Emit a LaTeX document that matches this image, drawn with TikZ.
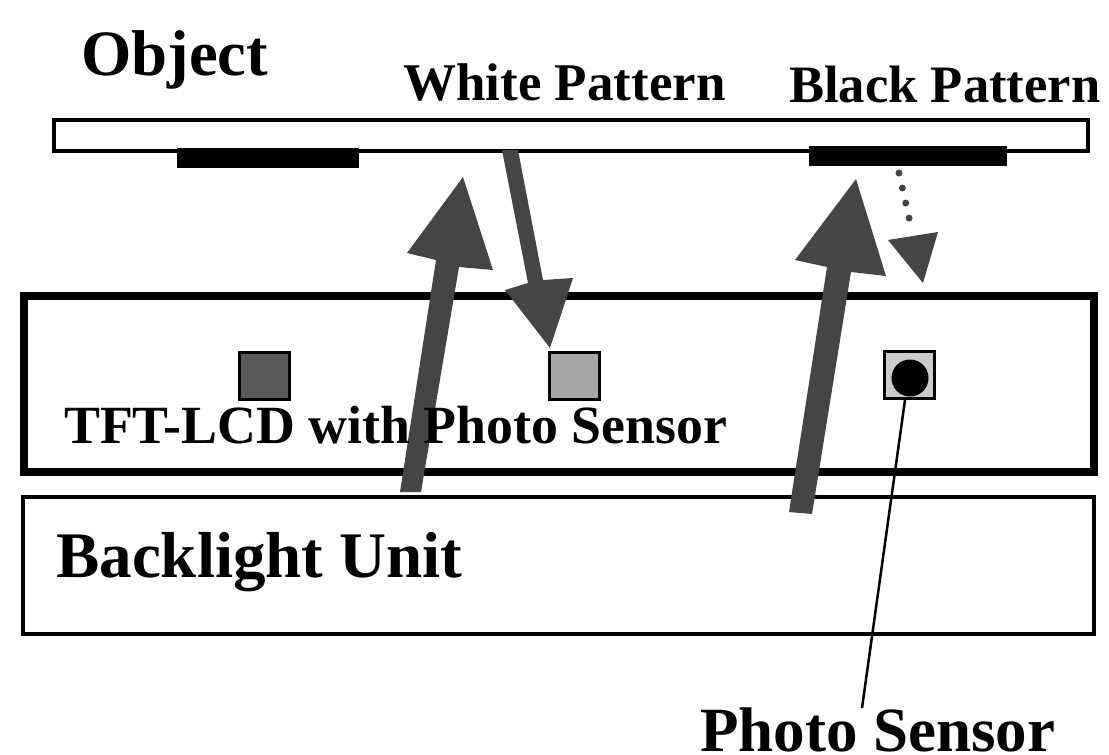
\documentclass[tikz,border=0pt]{standalone}
\usepackage{fontspec}
\setmainfont{Liberation Serif}
\definecolor{arrowgrey}{gray}{0.27}
\tikzset{
  lbl/.style={text=black, inner sep=0pt, anchor=base west},
  sq/.style={draw=black, line width=3pt, minimum width=50pt, minimum height=47pt, inner sep=0pt},
  bigarrow/.style={draw=none, fill=arrowgrey},
}
\newcommand{\lblfont}[1]{\bfseries\fontsize{#1pt}{#1pt}\selectfont}
\begin{document}
\begin{tikzpicture}[x=1pt,y=-1pt]
\useasboundingbox (0,0) rectangle (1109,755);
\fill[white] (0,0) rectangle (1109,755);
\draw[draw=black, fill=white, line width=3.5pt] (54,120) rectangle (1088,151);
\fill (177,148) rectangle (359,168);
\fill (809,146) rectangle (1007,166);
\draw[draw=black, fill=white, line width=8pt] (24,296) rectangle (1094,472);
\draw[draw=black, fill=white, line width=4pt] (23,497) rectangle (1094,634);
\node[sq, fill=black!65] (s1) at (264,376) {};
\node[sq, fill=black!35] (s2) at (574,376) {};
\node[sq, fill=black!20] (s3) at (909,375) {};
\fill (910,378) circle (18.5);
\fill[bigarrow] (400,492) -- (421,492) -- (459,267) -- (493,270) -- (463,177) -- (407,253) -- (436,260) -- cycle;
\fill[bigarrow] (789,512) -- (812,514) -- (851,272) -- (886,276) -- (856,179) -- (795,260) -- (827,267) -- cycle;
\fill[bigarrow] (502,150) -- (518,150) -- (543,280) -- (573,278) -- (550,348) -- (505,290) -- (528,283) -- cycle;
\coordinate (dstart) at (899,173);
\coordinate (dend) at (910,222);
\draw[arrowgrey, line width=7pt, line cap=round, dash pattern=on 0pt off 15.4pt] (dstart) -- (dend);
\fill[bigarrow] (888,240) -- (938,232) -- (923,283) -- cycle;
\node[lbl] (obj) at (81,75) {\lblfont{64.7}Object};
\node[lbl] (wp) at (403,100) {\lblfont{53}White Pattern};
\node[lbl] (bp) at (789,102) {\lblfont{52.6}Black Pattern};
\node[lbl] (tft) at (64,443) {\lblfont{53.8}TFT-LCD with Photo Sensor};
\node[lbl] (bl) at (56,577) {\lblfont{65}Backlight Unit};
\node[lbl] (ps) at (700,751) {\lblfont{63}Photo Sensor};
\coordinate (pstop) at (862,708);
\draw[line width=2.5pt] (s3.south) ++(-4,0) -- (pstop);
\end{tikzpicture}
\end{document}
